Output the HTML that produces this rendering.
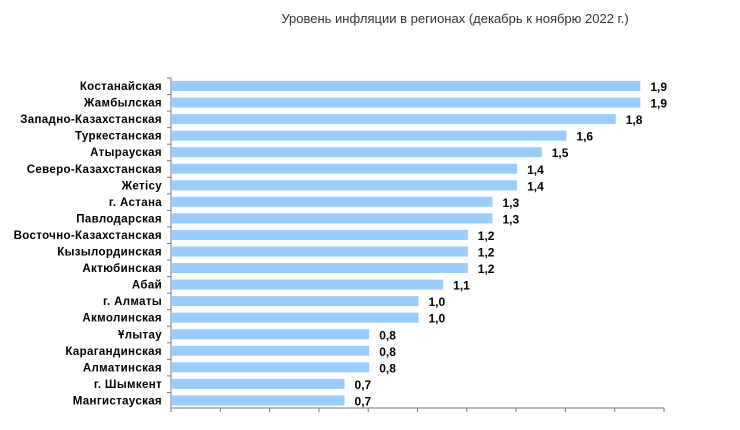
<!DOCTYPE html>
<html><head><meta charset="utf-8"><style>
body{margin:0;background:#fff;width:740px;height:425px;overflow:hidden;font-family:"Liberation Sans",sans-serif}
</style></head><body>
<svg width="740" height="425" xmlns="http://www.w3.org/2000/svg">
<text x="455" y="23" text-anchor="middle" font-size="13" fill="#333" font-family="Liberation Sans, sans-serif">Уровень инфляции в регионах (декабрь к ноябрю 2022 г.)</text>
<g id="c" font-family="Liberation Sans, sans-serif" font-weight="bold" font-size="11" fill="#000"></g>
</svg>
<script>
(function(){
var d=[["Костанайская",1.9],["Жамбылская",1.9],["Западно-Казахстанская",1.8],["Туркестанская",1.6],["Атырауская",1.5],["Северо-Казахстанская",1.4],["Жетiсу",1.4],["г. Астана",1.3],["Павлодарская",1.3],["Восточно-Казахстанская",1.2],["Кызылординская",1.2],["Актюбинская",1.2],["Абай",1.1],["г. Алматы",1.0],["Акмолинская",1.0],["Ұлытау",0.8],["Карагандинская",0.8],["Алматинская",0.8],["г. Шымкент",0.7],["Мангистауская",0.7]];
var g=document.getElementById('c');
var h='',x0=171,sc=246.5,ty=78,step=16.55;
d.forEach(function(r,i){var cy=86+i*step;var w=r[1]*sc;
h+='<rect x="'+(x0+1)+'" y="'+(cy-5)+'" width="'+w+'" height="10" fill="#99ccff"/>';
h+='<text x="162" y="'+(cy+4)+'" text-anchor="end" font-size="11.5" letter-spacing="0.35">'+r[0]+'</text>';
h+='<text x="'+(x0+w+11)+'" y="'+(cy+5)+'" font-size="12">'+r[1].toFixed(1).replace('.',',')+'</text>';
h+='<line x1="'+(x0-4)+'" x2="'+x0+'" y1="'+(ty+i*step)+'" y2="'+(ty+i*step)+'" stroke="#777"/>';});
h+='<line x1="'+x0+'" x2="'+x0+'" y1="'+ty+'" y2="408" stroke="#777"/>';
h+='<line x1="'+x0+'" x2="'+(x0+2*sc)+'" y1="408" y2="408" stroke="#777"/>';
for(var k=0;k<=10;k++){var x=x0+k*sc*0.2;h+='<line x1="'+x+'" x2="'+x+'" y1="408" y2="412" stroke="#777"/>';}
g.innerHTML=h;
})();
</script>
</body></html>
